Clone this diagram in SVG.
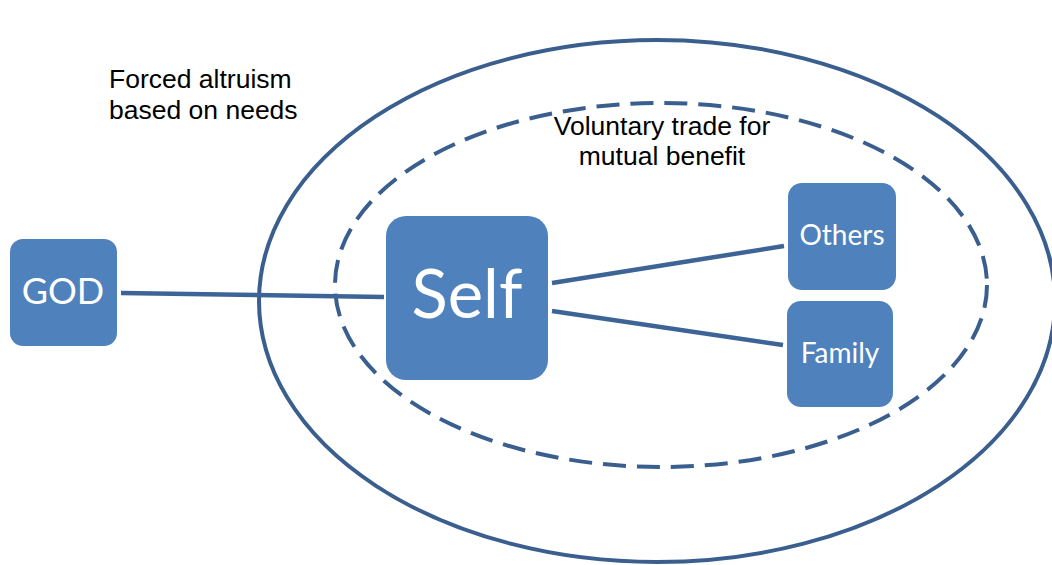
<svg xmlns="http://www.w3.org/2000/svg" width="1052" height="565" viewBox="0 0 1052 565">
<style>
.box{fill:#4F81BD;}
.lbl{fill:#FFFFFF;font-family:Lato,"Open Sans",sans-serif;text-anchor:middle;}
.cap{fill:#000000;font-family:"Liberation Sans",Arial,sans-serif;font-size:26.5px;}
.ring{fill:none;stroke:#3A5F8F;stroke-width:4;}
.edge{stroke:#3D6496;stroke-width:4.5;fill:none;}
</style>
<rect width="1052" height="565" fill="#FFFFFF"/>
<g id="outer-ring">
<ellipse class="ring" cx="657" cy="301" rx="398" ry="261"/>
</g>
<g id="inner-ring">
<ellipse class="ring" cx="661" cy="285" rx="326" ry="182" stroke-width="4.5" stroke-dasharray="23 11"/>
</g>
<g id="connectors">
<line class="edge" x1="121" y1="293" x2="384" y2="297"/>
<line class="edge" x1="552" y1="283" x2="784" y2="246"/>
<line class="edge" x1="552" y1="311" x2="783" y2="345"/>
</g>
<g id="node-god">
<rect class="box" x="10" y="239" width="107" height="107" rx="13"/>
<text class="lbl" x="63" y="304" font-size="36">GOD</text>
</g>
<g id="node-self">
<rect class="box" x="386" y="216" width="162" height="164" rx="20"/>
<text class="lbl" x="467" y="318" font-size="67">Self</text>
</g>
<g id="node-others">
<rect class="box" x="788" y="183" width="108" height="107" rx="14"/>
<text class="lbl" x="842" y="245" font-size="28">Others</text>
</g>
<g id="node-family">
<rect class="box" x="787" y="301" width="106" height="106" rx="14"/>
<text class="lbl" x="840" y="363" font-size="28">Family</text>
</g>
<g id="label-forced">
<text class="cap" x="109" y="88">Forced altruism</text>
<text class="cap" x="109" y="119">based on needs</text>
</g>
<g id="label-voluntary">
<text class="cap" x="662" y="135" text-anchor="middle">Voluntary trade for</text>
<text class="cap" x="662" y="165" text-anchor="middle">mutual benefit</text>
</g>
</svg>
